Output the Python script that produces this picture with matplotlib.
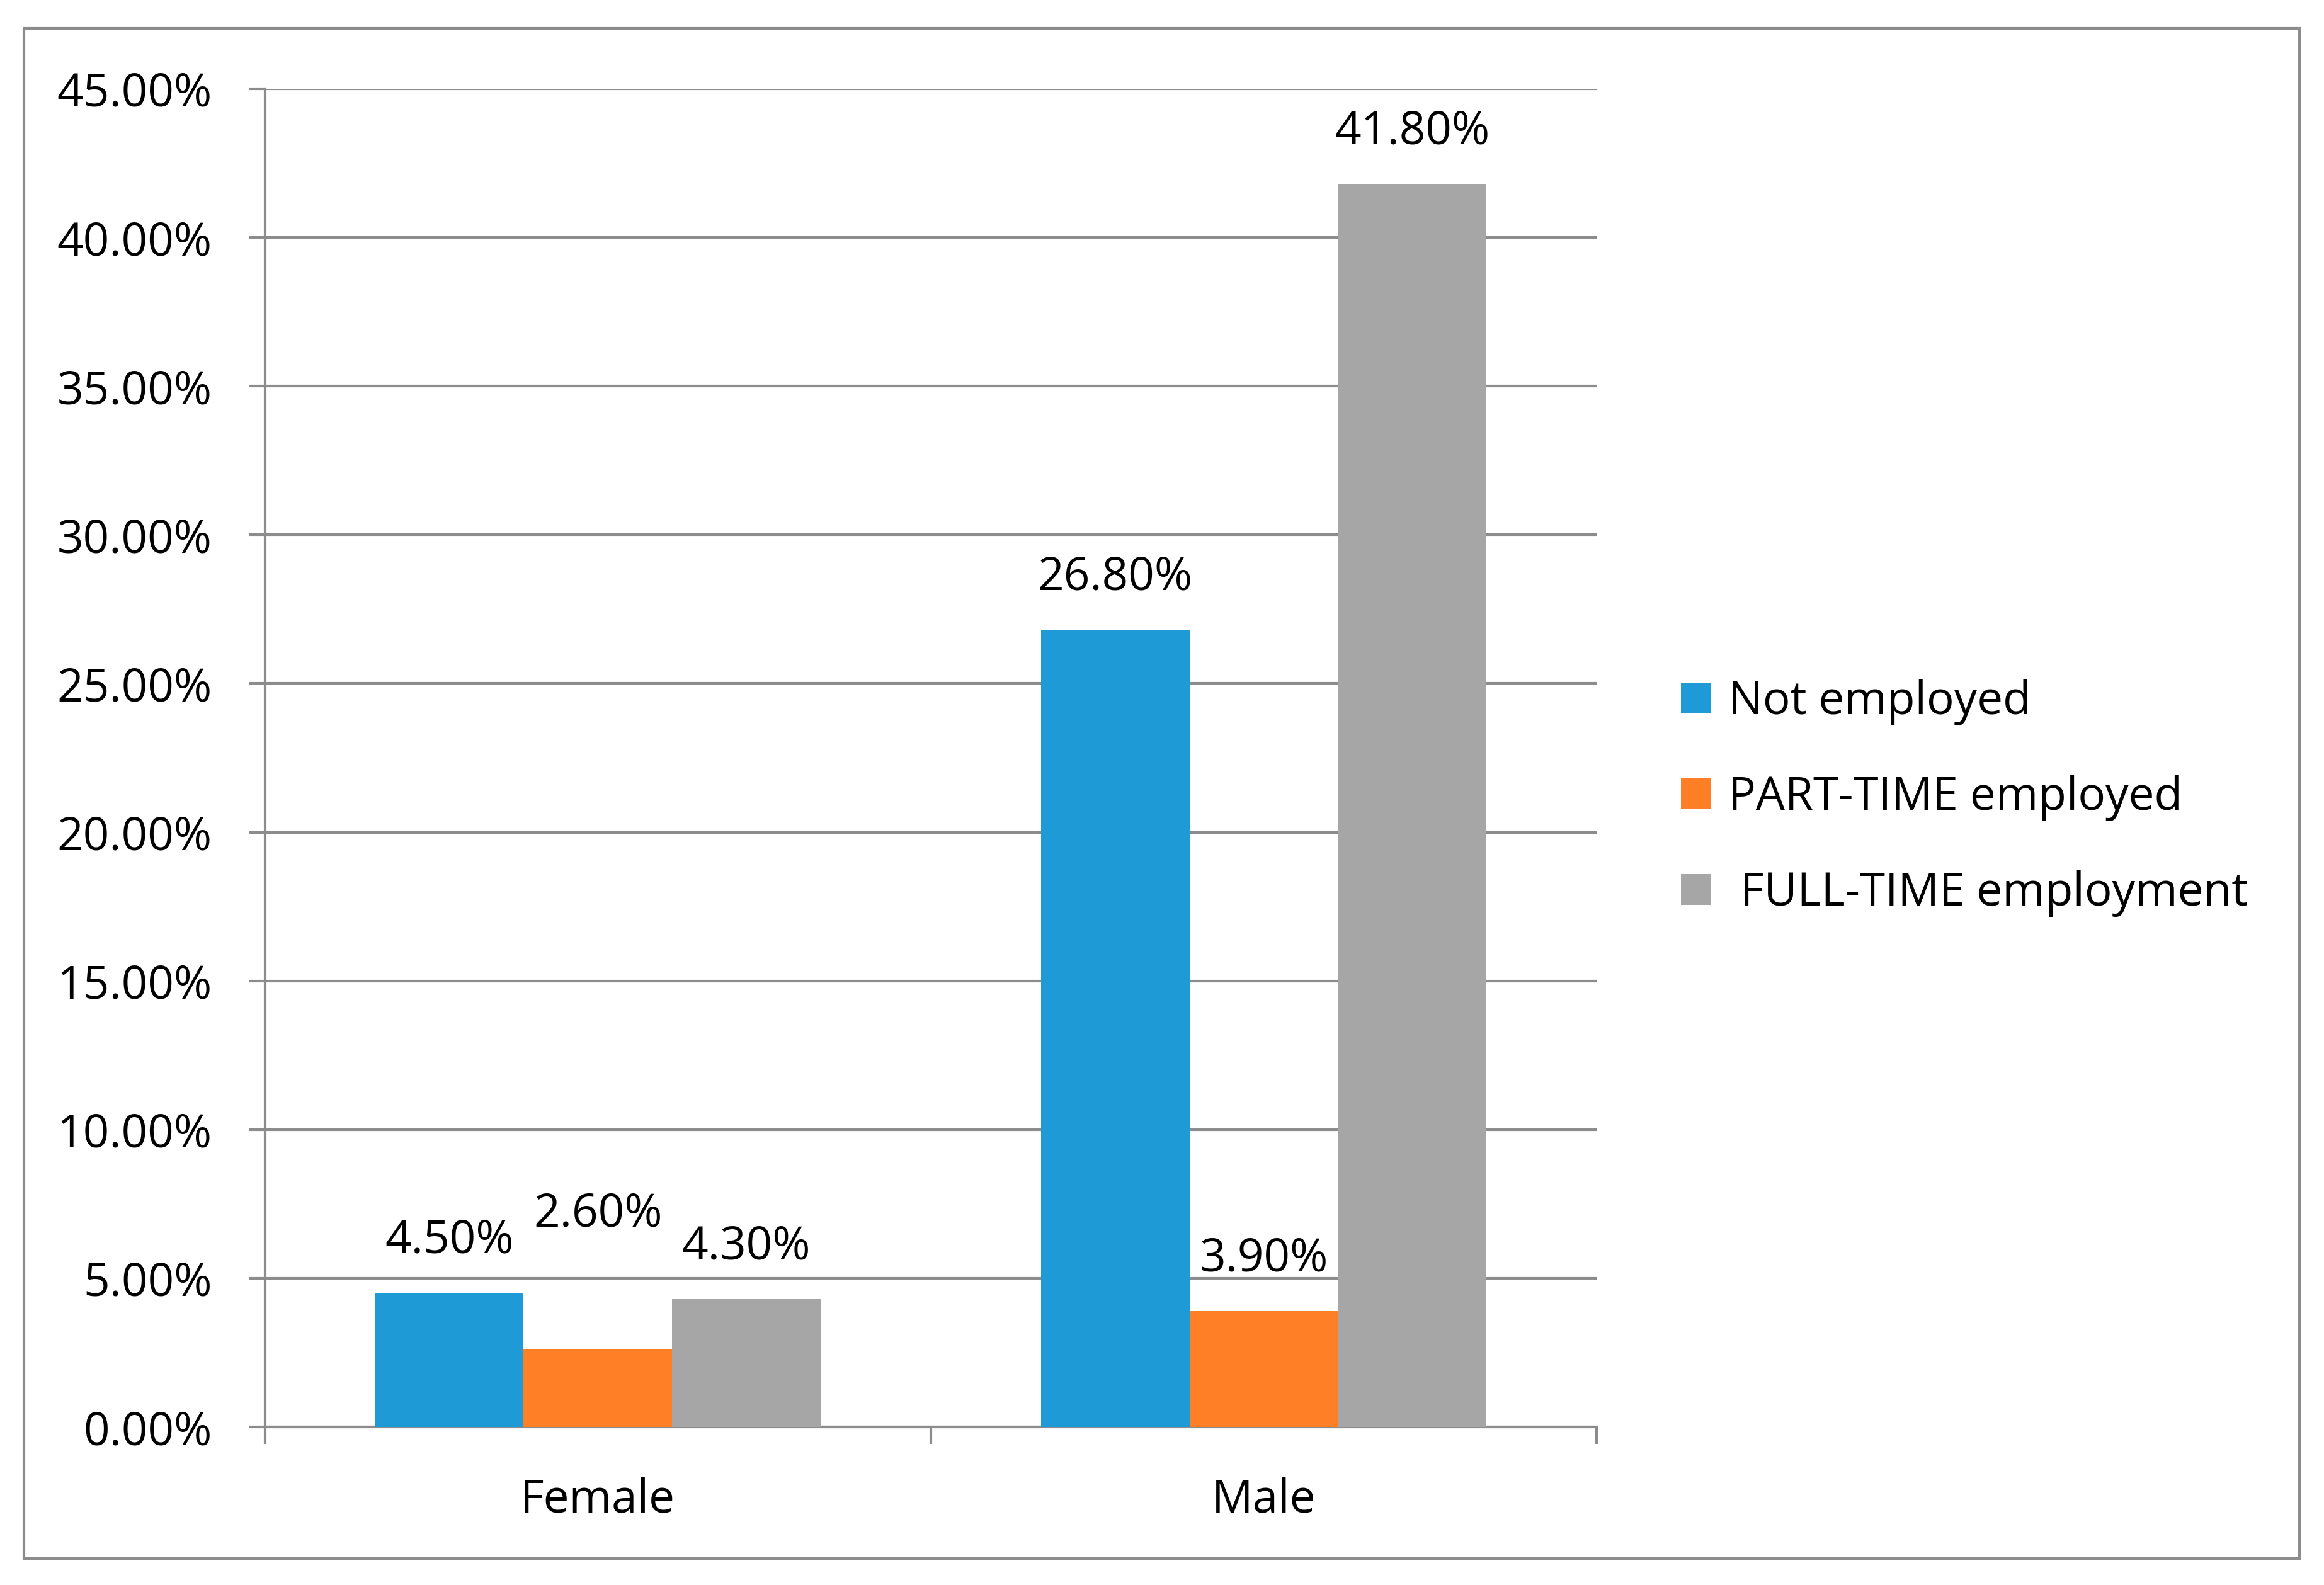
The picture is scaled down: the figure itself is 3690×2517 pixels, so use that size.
import numpy as np
import matplotlib
matplotlib.use("Agg")
import matplotlib.pyplot as plt
from matplotlib.patches import Rectangle
from matplotlib.ticker import FuncFormatter, MultipleLocator

plt.rcParams['font.family'] = ['Open Sans', 'DejaVu Sans']

categories = ['Female', 'Male']
series_names = ['Not employed', 'PART-TIME employed', ' FULL-TIME employment']
not_employed = [4.5, 26.8]
part_time = [2.6, 3.9]
full_time = [4.3, 41.8]
colors = ['#1E9BD7', '#FF7F27', '#A6A6A6']

grid_col = '#8C8C8C'
fs = 17.5

fig = plt.figure(figsize=(12.3, 8.39), dpi=300)
ax = fig.add_axes([0.114, 0.0997, 0.573, 0.8443])

x = np.arange(len(categories))
width = 0.223
series = [not_employed, part_time, full_time]
for i, (vals, name, col) in enumerate(zip(series, series_names, colors)):
    pos = x + (i - 1) * width
    bars = ax.bar(pos, vals, width=width, color=col, label=name, zorder=3)
    for j, (b, v) in enumerate(zip(bars, vals)):
        # Excel nudged the female part-time label up to avoid overlap
        extra = 2.8 if (i == 1 and j == 0) else 0.0
        ax.text(b.get_x() + b.get_width() / 2, v + 1.75 + extra, f'{v:.2f}%',
                ha='center', va='center', fontsize=fs, color='black')

ax.set_xlim(-0.5, len(categories) - 0.5)
ax.set_ylim(0, 45)
ax.yaxis.set_major_locator(MultipleLocator(5))
ax.yaxis.set_major_formatter(FuncFormatter(lambda v, p: f'{v:.2f}%'))
ax.yaxis.grid(True, color=grid_col, linewidth=1.0, zorder=0)
ax.set_axisbelow(True)

ax.set_xticks(x)
ax.set_xticklabels(categories)
ax.set_xticks(np.arange(len(categories) + 1) - 0.5, minor=True)
ax.tick_params(axis='x', which='major', length=0, pad=19, labelsize=fs)
ax.tick_params(axis='x', which='minor', length=6.5, width=1.0, color=grid_col, direction='out')
ax.tick_params(axis='y', which='major', length=6.2, width=1.0, color=grid_col, pad=14, labelsize=fs)

for s in ['top', 'right']:
    ax.spines[s].set_visible(False)
for s in ['left', 'bottom']:
    ax.spines[s].set_color(grid_col)
    ax.spines[s].set_linewidth(1.0)

fig.legend(loc='center left', bbox_to_anchor=(0.7233, 0.4966), frameon=False,
           fontsize=fs, handlelength=0.66, handleheight=0.66, handletextpad=0.37,
           labelspacing=1.07, borderpad=0, borderaxespad=0)

fig.patches.append(Rectangle((0.0104, 0.0167), 0.979, 0.9653, transform=fig.transFigure,
                             fill=False, edgecolor=grid_col, linewidth=1.0))

fig.savefig('out.png', dpi=300, facecolor='white')
